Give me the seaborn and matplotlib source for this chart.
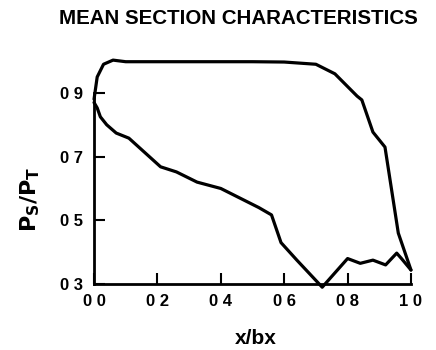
import matplotlib
matplotlib.use("Agg")
import matplotlib.pyplot as plt
import seaborn as sns
import pandas as pd

# Upper curve
upper_x = [0.0, 0.01, 0.03, 0.06, 0.10, 0.20, 0.30, 0.40, 0.50, 0.60, 0.70, 0.76, 0.80, 0.83, 0.845, 0.88, 0.918, 0.96, 1.0]
upper_y = [0.88, 0.95, 0.99, 1.003, 0.998, 0.998, 0.998, 0.998, 0.998, 0.997, 0.99, 0.96, 0.92, 0.89, 0.878, 0.777, 0.73, 0.46, 0.344]
# Lower curve
lower_x = [0.0, 0.01, 0.02, 0.04, 0.07, 0.11, 0.21, 0.26, 0.325, 0.40, 0.52, 0.56, 0.59, 0.64, 0.72, 0.80, 0.84, 0.88, 0.92, 0.955, 0.97, 1.0]
lower_y = [0.87, 0.853, 0.825, 0.80, 0.774, 0.758, 0.668, 0.652, 0.62, 0.60, 0.54, 0.517, 0.43, 0.375, 0.29, 0.38, 0.365, 0.375, 0.36, 0.397, 0.38, 0.344]

xticks = [0.0, 0.2, 0.4, 0.6, 0.8, 1.0]
xticklabels = ["0 0", "0 2", "0 4", "0 6", "0 8", "1 0"]
yticks = [0.3, 0.5, 0.7, 0.9]
yticklabels = ["0 3", "0 5", "0 7", "0 9"]

sns.set_style("ticks", {"xtick.direction": "in", "ytick.direction": "in"})
plt.rcParams['font.family'] = ['Liberation Sans', 'DejaVu Sans']
plt.rcParams['text.color'] = 'black'

fig = plt.figure(figsize=(4.36, 3.5), dpi=100)
ax = fig.add_axes([0.2011, 0.1703, 0.7633, 0.6734])

df_u = pd.DataFrame({"x": upper_x, "y": upper_y})
df_l = pd.DataFrame({"x": lower_x, "y": lower_y})
sns.lineplot(data=df_u, x="x", y="y", sort=False, estimator=None, color="black", lw=2.3, ax=ax)
sns.lineplot(data=df_l, x="x", y="y", sort=False, estimator=None, color="black", lw=2.3, ax=ax)

ax.set_xlim(-0.02, 1.03)
ax.set_ylim(0.28, 1.02)
for s in ["top", "right"]:
    ax.spines[s].set_visible(False)
ax.spines["left"].set_position(("data", 0.0))
ax.spines["bottom"].set_position(("data", 0.3))
ax.spines["left"].set_bounds(0.3, 0.9)
ax.spines["bottom"].set_bounds(0.0, 1.0)
for s in ["left", "bottom"]:
    ax.spines[s].set_linewidth(2.0)
    ax.spines[s].set_color("black")

ax.set_xticks(xticks)
ax.set_xticklabels(xticklabels, fontweight="bold")
ax.set_yticks(yticks)
ax.set_yticklabels(yticklabels, fontweight="bold")
ax.tick_params(axis="x", which="major", bottom=True, direction="in",
               length=8, width=1.5, color="black", labelcolor="black", labelsize=12, pad=7)
ax.tick_params(axis="y", which="major", left=True, direction="in",
               length=8, width=1.5, color="black", labelcolor="black", labelsize=12, pad=8)
ax.set_xlabel("")
ax.set_ylabel("")

fig.text(0.546, 0.946, "MEAN SECTION CHARACTERISTICS", ha="center", va="center",
         fontsize=14.8, fontweight="bold", color="black")
fig.text(0.069, 0.43, r"$\mathbf{P_S/P_T}$", ha="center", va="center",
         rotation=90, fontsize=16, color="black")
fig.text(0.587, 0.034, "x/bx", ha="center", va="center", fontsize=15,
         fontweight="bold", color="black")

fig.savefig("out.png", dpi=100)
